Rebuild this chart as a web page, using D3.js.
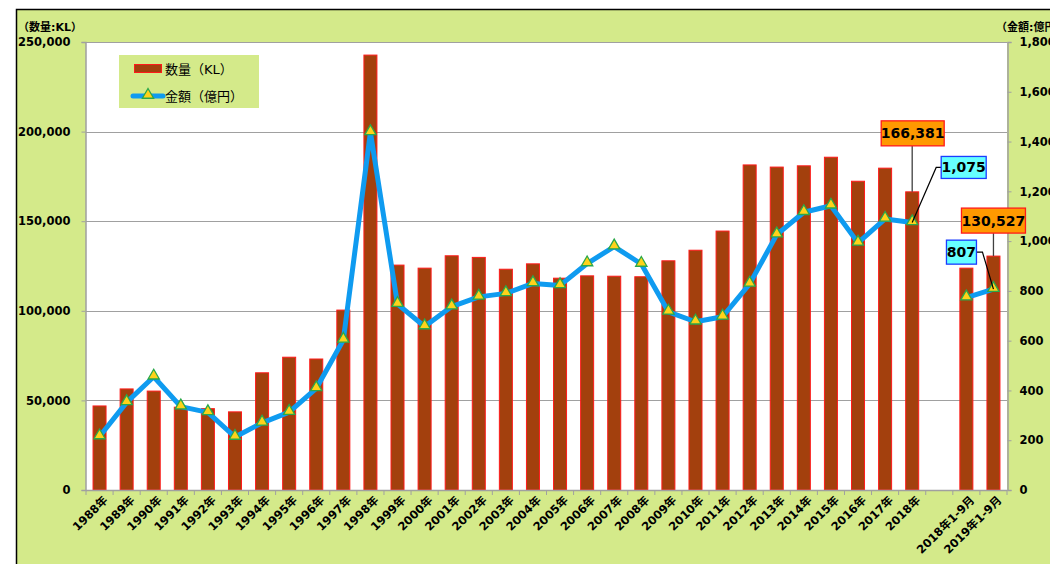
<!DOCTYPE html>
<html>
<head>
    <title>数量・金額</title>
    <script src="https://d3js.org/d3.v7.min.js"></script>
    <style>
        body { margin: 0; background: #fff; }
        text { font-family: "DejaVu Sans", "Noto Sans CJK JP", sans-serif; }
    </style>
</head>
<body>

<script>
const categories = ['1988年', '1989年', '1990年', '1991年', '1992年', '1993年', '1994年', '1995年',
    '1996年', '1997年', '1998年', '1999年', '2000年', '2001年', '2002年', '2003年', '2004年',
    '2005年', '2006年', '2007年', '2008年', '2009年', '2010年', '2011年', '2012年', '2013年',
    '2014年', '2015年', '2016年', '2017年', '2018年', '', '2018年1-9月', '2019年1-9月'];

// 数量 (KL)
const volume = [46900, 56400, 55200, 46200, 45400, 43600, 65400, 74100, 73100, 100400,
    242700, 125500, 123800, 130700, 129800, 123200, 126200, 118200, 119500, 119300,
    119000, 127900, 133800, 144500, 181400, 180200, 180900, 185700, 172300, 179600,
    166381, null, 123800, 130527];

// 金額 (億円)
const amount = [215, 352, 455, 335, 312, 213, 270, 313, 408, 603,
    1437, 747, 657, 737, 776, 790, 830, 822, 910, 978,
    908, 716, 676, 696, 828, 1026, 1116, 1142, 993, 1089,
    1075, null, 773, 807];

const leftTicks = [0, 50000, 100000, 150000, 200000, 250000];
const rightTicks = [0, 200, 400, 600, 800, 1000, 1200, 1400, 1600, 1800];

const W = 1050, H = 564;
const plot = { left: 86, top: 42, right: 1007, bottom: 490 };

const svg = d3.select('body').append('svg')
    .attr('width', W)
    .attr('height', H);

// outer frame
svg.append('rect')
    .attr('x', 16.5).attr('y', 9.5)
    .attr('width', W).attr('height', H)
    .attr('fill', '#d4ea8a')
    .attr('stroke', '#000')
    .attr('stroke-width', 1.5);

svg.append('rect')
    .attr('x', plot.left).attr('y', plot.top)
    .attr('width', plot.right - plot.left).attr('height', plot.bottom - plot.top)
    .attr('fill', '#fff');

const x = d3.scaleBand()
    .domain(categories.map((c, i) => i))
    .range([plot.left, plot.right]);

const yL = d3.scaleLinear().domain([0, 250000]).range([plot.bottom, plot.top]);
const yR = d3.scaleLinear().domain([0, 1800]).range([plot.bottom, plot.top]);

const cx = i => x(i) + x.bandwidth() / 2;

// gridlines
svg.append('g')
    .selectAll('line')
    .data(leftTicks.slice(1))
    .join('line')
    .attr('x1', plot.left).attr('x2', plot.right)
    .attr('y1', d => Math.round(yL(d)) + 0.5).attr('y2', d => Math.round(yL(d)) + 0.5)
    .attr('stroke', '#a0a0a0')
    .attr('stroke-width', 1);

// bars
const barW = x.bandwidth() * 0.48;
svg.append('g')
    .selectAll('rect')
    .data(volume.map((v, i) => ({ v, i })).filter(d => d.v != null))
    .join('rect')
    .attr('x', d => cx(d.i) - barW / 2)
    .attr('y', d => yL(d.v))
    .attr('width', barW)
    .attr('height', d => yL(0) - yL(d.v))
    .attr('fill', '#a3400d')
    .attr('stroke', '#ff1a1a')
    .attr('stroke-width', 1);

// axes
const fmt = d3.format(',');
const leftAxis = svg.append('g')
    .attr('transform', `translate(${plot.left - 0.5},0)`)
    .call(d3.axisLeft(yL).tickValues(leftTicks).tickFormat(fmt).tickSize(4).tickPadding(11));
const rightAxis = svg.append('g')
    .attr('transform', `translate(${plot.right + 0.5},0)`)
    .call(d3.axisRight(yR).tickValues(rightTicks).tickFormat(fmt).tickSize(4).tickPadding(8));
[leftAxis, rightAxis].forEach(a => {
    a.select('.domain').attr('stroke', '#a0a0a0').attr('stroke-width', 1.5);
    a.selectAll('.tick line').attr('stroke', '#a0a0a0');
    a.selectAll('.tick text')
        .attr('fill', '#000')
        .attr('font-size', 11.5)
        .attr('font-weight', 'bold')
        .attr('font-family', '"DejaVu Sans", sans-serif');
});

// x axis
const xg = svg.append('g');
xg.append('line')
    .attr('x1', plot.left).attr('x2', plot.right)
    .attr('y1', plot.bottom + 0.5).attr('y2', plot.bottom + 0.5)
    .attr('stroke', '#a0a0a0').attr('stroke-width', 1.5);
xg.selectAll('line.tk')
    .data(d3.range(categories.length + 1))
    .join('line')
    .attr('class', 'tk')
    .attr('x1', i => plot.left + i * x.step())
    .attr('x2', i => plot.left + i * x.step())
    .attr('y1', plot.bottom).attr('y2', plot.bottom + 5)
    .attr('stroke', '#a0a0a0');
xg.selectAll('text')
    .data(categories.map((c, i) => ({ c, i })).filter(d => d.c))
    .join('text')
    .attr('transform', d => `translate(${cx(d.i) + 6},${plot.bottom + 8}) rotate(-45)`)
    .attr('text-anchor', 'end')
    .attr('dy', '0.35em')
    .attr('font-size', 11.5)
    .attr('font-weight', 'bold')
    .text(d => d.c);

// amount line
const line = d3.line()
    .defined(d => d.v != null)
    .x(d => cx(d.i))
    .y(d => yR(d.v));
const amtData = amount.map((v, i) => ({ v, i }));
svg.append('path')
    .datum(amtData)
    .attr('d', line)
    .attr('fill', 'none')
    .attr('stroke', '#0f9bf0')
    .attr('stroke-width', 5)
    .attr('stroke-linejoin', 'round');

const tri = d3.symbol().type(d3.symbolTriangle).size(55);
svg.append('g')
    .selectAll('path')
    .data(amtData.filter(d => d.v != null))
    .join('path')
    .attr('d', tri)
    .attr('transform', d => `translate(${cx(d.i)},${yR(d.v) - 1})`)
    .attr('fill', '#ffd21a')
    .attr('stroke', '#2aa84a')
    .attr('stroke-width', 1.3);

// axis titles
svg.append('text')
    .attr('x', 18).attr('y', 31)
    .attr('font-size', 11).attr('font-weight', 'bold')
    .text('（数量:KL）');
svg.append('text')
    .attr('x', 996).attr('y', 31)
    .attr('font-size', 11).attr('font-weight', 'bold')
    .text('（金額:億円）');

// legend
const lg = svg.append('g');
lg.append('rect')
    .attr('x', 119).attr('y', 55).attr('width', 140).attr('height', 53)
    .attr('fill', '#d4ea8a');
lg.append('rect')
    .attr('x', 134.5).attr('y', 64.5).attr('width', 27).attr('height', 8)
    .attr('fill', '#a3400d').attr('stroke', '#ff1a1a');
lg.append('text')
    .attr('x', 165).attr('y', 69).attr('dy', '0.35em')
    .attr('font-size', 13).attr('font-family', '"Noto Sans CJK JP", sans-serif')
    .text('数量（KL）');
lg.append('line')
    .attr('x1', 133).attr('x2', 163).attr('y1', 96).attr('y2', 96)
    .attr('stroke', '#0f9bf0').attr('stroke-width', 5).attr('stroke-linecap', 'round');
lg.append('path')
    .attr('d', tri)
    .attr('transform', 'translate(148,95)')
    .attr('fill', '#ffd21a').attr('stroke', '#2aa84a').attr('stroke-width', 1.3);
lg.append('text')
    .attr('x', 165).attr('y', 96).attr('dy', '0.35em')
    .attr('font-size', 13).attr('font-family', '"Noto Sans CJK JP", sans-serif')
    .text('金額（億円）');

// callouts
const last = categories.length - 1;
const i2018 = categories.indexOf('2018年');
const callouts = [
    { i: i2018, px: cx(i2018), py: yL(volume[i2018]), label: fmt(volume[i2018]), kind: 'vol', bx: -31, by: -71, bw: 63, bh: 25, elbow: null },
    { i: last, px: cx(last), py: yL(volume[last]), label: fmt(volume[last]), kind: 'vol', bx: -32, by: -48, bw: 64, bh: 25, elbow: null },
    { i: i2018, px: cx(i2018), py: yR(amount[i2018]), label: fmt(amount[i2018]), kind: 'amt', bx: 29, by: -66, bw: 45, bh: 22, elbow: 24 },
    { i: last, px: cx(last), py: yR(amount[last]), label: fmt(amount[last]), kind: 'amt', bx: -47, by: -49, bw: 30, bh: 24, elbow: -11 }
];

callouts.forEach(c => {
    const g = svg.append('g');
    const bx = c.px + c.bx, by = c.py + c.by;
    if (c.elbow == null) {
        g.append('line')
            .attr('x1', c.px).attr('x2', c.px)
            .attr('y1', by + c.bh).attr('y2', c.py)
            .attr('stroke', '#404040').attr('stroke-width', 1.3);
    } else {
        const my = by + c.bh / 2;
        const edge = c.bx > 0 ? bx : bx + c.bw;
        g.append('polyline')
            .attr('points', `${edge},${my} ${c.px + c.elbow},${my} ${c.px},${c.py}`)
            .attr('fill', 'none')
            .attr('stroke', '#000').attr('stroke-width', 1.2);
    }
    g.append('rect')
        .attr('x', bx).attr('y', by).attr('width', c.bw).attr('height', c.bh)
        .attr('fill', c.kind === 'vol' ? '#ff9900' : '#66ffff')
        .attr('stroke', c.kind === 'vol' ? '#ff1a1a' : '#1a3cff')
        .attr('stroke-width', 1.3);
    g.append('text')
        .attr('x', bx + c.bw / 2).attr('y', by + c.bh / 2).attr('dy', '0.36em')
        .attr('text-anchor', 'middle')
        .attr('font-size', 14).attr('font-weight', 'bold')
        .text(c.label);
});
</script>

</body>
</html>
